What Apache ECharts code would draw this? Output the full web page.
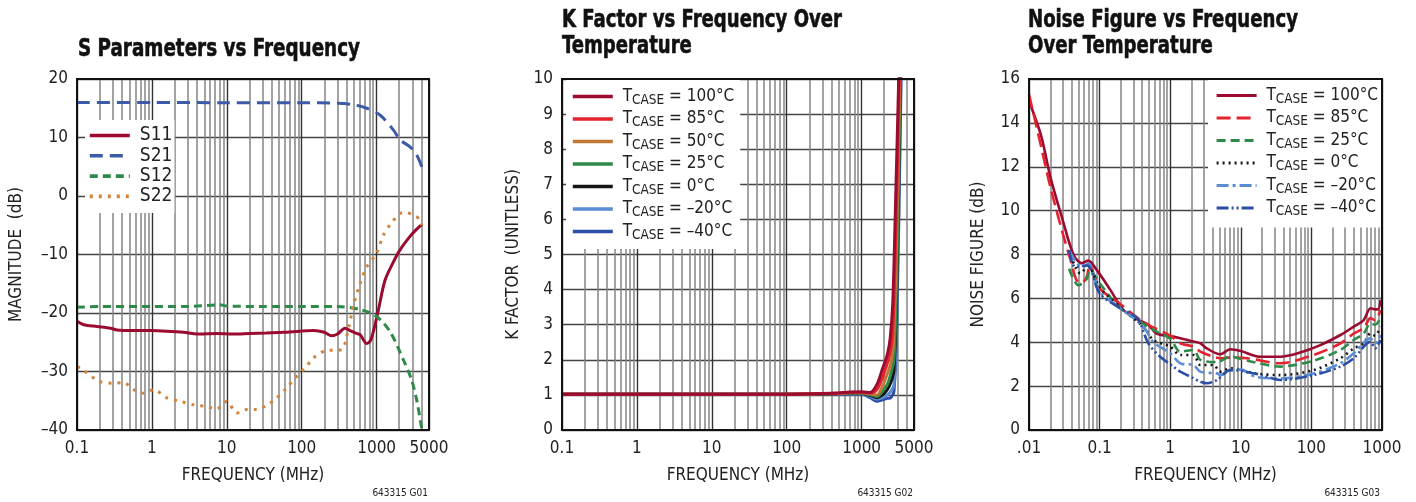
<!DOCTYPE html>
<html>
<head>
<meta charset="utf-8">
<script src="https://cdn.jsdelivr.net/npm/echarts@6/dist/echarts.min.js"></script>
<style>
html,body{margin:0;padding:0;background:#fff;}
#c{width:1416px;height:502px;}
</style>
</head>
<body>
<div id="c"></div>
<script>
// ---------- DATA ----------
// Chart 1: S parameters (freq MHz, dB)
var s11 = [[0.1,-21.4],[0.123,-22.0],[0.185,-22.3],[0.28,-22.6],[0.34,-22.9],[0.57,-23.0],[0.95,-23.0],[1.58,-23.1],[2.66,-23.3],[4,-23.6],[7.3,-23.5],[12,-23.6],[20,-23.5],[34,-23.4],[57,-23.3],[95,-23.1],[143,-23.0],[200,-23.3],[251,-23.9],[300,-23.6],[378,-22.6],[440,-23.0],[514,-23.4],[600,-23.7],[738,-25.2],[820,-24.8],[903,-23.2],[1054,-19.5],[1294,-14.4],[1670,-11.3],[2052,-9.2],[2790,-6.9],[3400,-5.7],[4000,-4.9]];
var s21 = [[0.1,16.0],[1,16.0],[10,15.95],[100,15.95],[300,15.85],[500,15.6],[738,15.0],[1109,13.85],[1670,11.3],[2052,9.6],[2790,8.4],[3427,7.0],[4000,5.0]];
var s12 = [[0.1,-19.0],[0.2,-18.9],[1,-18.9],[3,-18.9],[8,-18.6],[10,-18.8],[30,-18.9],[100,-18.9],[300,-18.9],[604,-19.4],[1000,-20.6],[1510,-23.2],[2275,-28.0],[2940,-31.5],[3427,-34.9],[4000,-39.8]];
var s22 = [[0.1,-29.2],[0.11,-29.4],[0.2,-31.7],[0.31,-32.0],[0.42,-31.9],[0.57,-33.1],[0.78,-33.7],[1.05,-33.1],[1.58,-34.5],[2.4,-35.1],[3.6,-35.7],[5.4,-36.0],[7.3,-36.4],[10,-35.1],[13.6,-37.1],[18.5,-36.5],[25,-36.5],[34,-35.8],[46.5,-34.5],[63,-32.8],[86,-30.8],[116,-29.1],[143,-27.7],[215,-26.4],[339,-26.3],[398,-24.0],[487,-18.9],[604,-14.9],[738,-12.1],[1000,-9.8],[1230,-6.7],[1600,-4.5],[2052,-3.0],[2400,-2.8],[3250,-3.4],[3800,-4.1],[4000,-5.0]];

// Chart 2: K factor (freq MHz, unitless)
var k100 = [[0.1,1.02],[1,1.02],[10,1.02],[100,1.02],[200,1.03],[300,1.04],[500,1.06],[700,1.08],[1000,1.09],[1300,1.07],[1600,1.3],[1900,1.75],[2200,2.15],[2400,2.6],[2600,3.6],[2800,6.0],[3150,10.3]];
var k85 = [[0.1,1.02],[1,1.02],[10,1.02],[100,1.02],[300,1.04],[500,1.05],[700,1.07],[1000,1.07],[1300,1.05],[1600,1.15],[1900,1.5],[2200,1.9],[2400,2.2],[2600,2.8],[2850,5.5],[3200,10.3]];
var k50 = [[0.1,1.02],[1,1.02],[10,1.02],[100,1.02],[300,1.03],[500,1.04],[700,1.06],[1000,1.06],[1300,1.03],[1600,1.0],[1900,1.25],[2200,1.6],[2450,1.9],[2650,2.4],[2900,5.0],[3250,10.3]];
var k25 = [[0.1,1.02],[1,1.02],[10,1.02],[100,1.02],[300,1.03],[500,1.04],[700,1.05],[1000,1.05],[1300,1.0],[1600,0.95],[1900,1.1],[2200,1.3],[2450,1.6],[2700,2.0],[2950,4.5],[3300,10.3]];
var k0 = [[0.1,1.02],[1,1.02],[10,1.02],[100,1.02],[300,1.02],[500,1.03],[700,1.04],[1000,1.04],[1300,0.98],[1600,0.92],[1900,1.0],[2200,1.15],[2450,1.35],[2700,1.7],[2950,4.0],[3320,10.3]];
var km20 = [[0.1,1.02],[1,1.02],[10,1.02],[100,1.02],[300,1.02],[500,1.02],[700,1.03],[1000,1.03],[1300,0.95],[1600,0.88],[1900,0.92],[2200,1.0],[2450,1.1],[2700,1.3],[2950,3.5],[3350,10.3]];
var km40 = [[0.1,1.02],[1,1.02],[10,1.02],[100,1.02],[300,1.02],[500,1.02],[700,1.02],[1000,1.02],[1300,0.92],[1600,0.82],[1900,0.86],[2200,0.9],[2450,0.92],[2700,1.1],[2950,3.0],[3380,10.3]];

// Chart 3: Noise figure (freq MHz, dB)
var nf100 = [[0.01,15.0],[0.0149,13.4],[0.02,11.55],[0.03,9.57],[0.0426,8.0],[0.056,7.6],[0.069,7.72],[0.091,7.3],[0.141,6.4],[0.218,5.47],[0.34,5.04],[0.49,4.79],[0.64,4.4],[1.0,4.28],[1.39,4.18],[2.14,4.03],[2.67,3.95],[3.3,3.72],[5.1,3.45],[7.1,3.68],[10,3.6],[18.9,3.34],[36,3.34],[69,3.53],[134,3.87],[258,4.33],[398,4.71],[550,5.01],[687,5.55],[800,5.5],[880,5.5],[955,5.92]];
var nf85 = [[0.01,15.3],[0.0149,12.9],[0.02,11.1],[0.03,8.97],[0.04,7.6],[0.047,6.84],[0.056,6.7],[0.066,7.0],[0.072,7.5],[0.1,6.46],[0.19,5.78],[0.34,5.13],[0.52,4.75],[1.0,4.3],[1.39,3.95],[2.14,3.8],[2.67,3.57],[4.1,3.34],[5.1,3.27],[7.1,3.3],[12.4,3.27],[36,3.04],[107,3.42],[258,3.95],[398,4.4],[550,4.64],[687,5.1],[800,5.0],[955,5.47]];
var nf25 = [[0.037,7.35],[0.05,6.6],[0.066,6.9],[0.072,7.3],[0.1,6.7],[0.19,5.6],[0.58,4.56],[1.0,4.16],[1.39,3.57],[2.14,3.65],[2.67,3.2],[4.6,3.1],[7.1,3.34],[12.4,3.16],[36,2.89],[107,3.16],[258,3.65],[398,4.1],[550,4.4],[687,4.86],[800,4.8],[955,5.1]];
var nf0 = [[0.037,8.2],[0.053,7.14],[0.069,7.45],[0.1,6.5],[0.25,5.3],[0.42,4.7],[0.58,4.1],[1.0,3.8],[1.39,3.42],[2.14,3.42],[2.67,2.96],[4.1,2.96],[5.1,2.66],[7.1,2.81],[16,2.58],[36,2.5],[107,2.73],[258,3.27],[398,3.72],[550,3.95],[687,4.4],[800,4.3],[955,4.71]];
var nfm20 = [[0.037,8.2],[0.048,7.6],[0.06,7.45],[0.069,7.6],[0.1,6.3],[0.19,5.6],[0.42,4.7],[0.58,4.0],[1.0,3.5],[1.39,3.04],[2.14,2.96],[2.67,2.66],[4.6,2.58],[5.1,2.5],[7.1,2.73],[10,2.75],[16,2.43],[36,2.35],[107,2.58],[258,3.04],[398,3.5],[687,4.18],[800,3.95],[955,4.33]];
var nfm40 = [[0.037,8.2],[0.045,7.44],[0.067,7.5],[0.1,6.23],[0.194,5.55],[0.34,5.1],[0.49,3.95],[0.72,3.34],[1.11,2.89],[1.39,2.66],[2.14,2.36],[2.67,2.2],[3.3,2.13],[4.6,2.28],[7.1,2.73],[10,2.7],[20,2.5],[36,2.28],[107,2.5],[258,2.89],[398,3.27],[687,4.03],[800,3.72],[955,4.1]];

// Tick labels
var xTicks1 = [0.1, 1, 10, 100, 1000, 5000];
var xTickLabels1 = ['0.1', '1', '10', '100', '1000', '5000'];
var xTicks3 = [0.01, 0.1, 1, 10, 100, 1000];
var xTickLabels3 = ['.01', '0.1', '1', '10', '100', '1000'];

var sNames = ['S11', 'S21', 'S12', 'S22'];
var kNames = ['100°C', '85°C', '50°C', '25°C', '0°C', '–20°C', '–40°C'];
var nfNames = ['100°C', '85°C', '25°C', '0°C', '–20°C', '–40°C'];

var titles = [
  ['S Parameters vs Frequency'],
  ['K Factor vs Frequency Over', 'Temperature'],
  ['Noise Figure vs Frequency', 'Over Temperature']
];

// ---------- STYLE ----------
var FONT = "'Liberation Sans Narrow', 'Arial Narrow', 'DejaVu Sans Condensed', sans-serif";
var TFONT = "'DejaVu Sans Condensed', sans-serif";
var TXT = '#222';
var MINOR = '#858585';
var MAJOR = '#333';

function minorLines(minExp, maxVal) {
  var out = [];
  for (var e = minExp; Math.pow(10, e) < maxVal; e++) {
    for (var m = 2; m <= 9; m++) {
      var v = m * Math.pow(10, e);
      if (v < maxVal * 0.999) out.push({ xAxis: v });
    }
  }
  return out;
}
function tickFmt(ticks, labels) {
  return function (v) {
    for (var i = 0; i < ticks.length; i++) {
      if (Math.abs(Math.log10(v) - Math.log10(ticks[i])) < 0.01) return labels[i];
    }
    return '';
  };
}
function yFmt(v) { return String(v).replace('-', '–'); }

var grids = [
  { left: 77, top: 79, width: 352, height: 351 },
  { left: 562, top: 79, width: 352, height: 351 },
  { left: 1029, top: 79, width: 353, height: 351 }
];
grids.forEach(function (g) { g.show = true; g.borderColor = '#111'; g.borderWidth = 2; g.backgroundColor = 'transparent'; g.z = 12; });

function xAxis(gi, min, max, ticks, labels) {
  return {
    type: 'log', logBase: 10, gridIndex: gi, min: min, max: max,
    name: 'FREQUENCY (MHz)', nameLocation: 'middle', nameGap: 37,
    nameTextStyle: { fontFamily: FONT, fontSize: 17, color: TXT },
    axisLine: { show: false }, axisTick: { show: false },
    axisLabel: { fontFamily: FONT, fontSize: 17, color: TXT, margin: 10, showMaxLabel: true, showMinLabel: true, formatter: tickFmt(ticks, labels) },
    splitLine: { show: true, lineStyle: { color: MAJOR, width: 1.4 } },
    minorTick: { show: false }, minorSplitLine: { show: false }
  };
}
function yAxis(gi, min, max, interval, name, gap) {
  return {
    type: 'value', gridIndex: gi, min: min, max: max, interval: interval,
    name: name, nameLocation: 'middle', nameGap: gap, nameRotate: 90,
    nameTextStyle: { fontFamily: FONT, fontSize: 17, color: TXT },
    axisLine: { show: false }, axisTick: { show: false },
    axisLabel: { fontFamily: FONT, fontSize: 17, color: TXT, margin: 9, formatter: yFmt },
    splitLine: { show: true, lineStyle: { color: '#444', width: 1.4 } }
  };
}
function gridSeries(gi, minExp, maxVal) {
  return {
    type: 'line', name: '_grid' + gi, xAxisIndex: gi, yAxisIndex: gi, data: [], z: 1, silent: true,
    markLine: { silent: true, symbol: 'none', label: { show: false }, animation: false,
      lineStyle: { color: MINOR, width: 1.5, type: 'solid' }, data: minorLines(minExp, maxVal) }
  };
}
function line(gi, name, data, color, width, type, z) {
  return { type: 'line', name: name, xAxisIndex: gi, yAxisIndex: gi, data: data, showSymbol: false, symbol: 'none',
    smooth: 0.3, z: z || 5, animation: false,
    lineStyle: { color: color, width: width, type: type, cap: 'butt' }, itemStyle: { color: color } };
}
function tcase(name) { return '{t|T}{s|CASE}{t| = ' + name + '}'; }
var rich = {
  t: { fontFamily: FONT, fontSize: 17, color: TXT, lineHeight: 20 },
  s: { fontFamily: FONT, fontSize: 13.5, color: TXT, lineHeight: 12, padding: [7, 0, 0, 0] }
};

var C = { dred: '#9a0b2f', blue: '#3b5ba8', green: '#2f8a4a', orange: '#d0843e', red: '#e5222d', brown: '#c07735', black: '#151515', lblue: '#5a8dd3', dblue: '#2d4ea6' };

var series = [
  gridSeries(0, -1, 5000), gridSeries(1, -1, 5000), gridSeries(2, -2, 1000),
  line(0, 'S11', s11, C.dred, 3, 'solid', 6),
  line(0, 'S21', s21, C.blue, 3, [13, 7], 6),
  line(0, 'S12', s12, C.green, 3, [8, 5], 6),
  line(0, 'S22', s22, C.orange, 3, [3, 6], 6),
  line(1, 'k' + kNames[6], km40, C.dblue, 3, 'solid', 5),
  line(1, 'k' + kNames[5], km20, C.lblue, 3, 'solid', 5),
  line(1, 'k' + kNames[4], k0, C.black, 3, 'solid', 5),
  line(1, 'k' + kNames[3], k25, C.green, 3, 'solid', 5),
  line(1, 'k' + kNames[2], k50, C.brown, 3, 'solid', 5),
  line(1, 'k' + kNames[1], k85, C.red, 3, 'solid', 5),
  line(1, 'k' + kNames[0], k100, C.dred, 3, 'solid', 5),
  line(2, 'n' + nfNames[0], nf100, C.dred, 2.6, 'solid', 6),
  line(2, 'n' + nfNames[1], nf85, C.red, 2.6, [14, 6], 6),
  line(2, 'n' + nfNames[2], nf25, C.green, 2.6, [9, 5], 6),
  line(2, 'n' + nfNames[3], nf0, C.black, 2.6, [2, 4], 6),
  line(2, 'n' + nfNames[4], nfm20, C.lblue, 2.6, [12, 4, 3, 4], 6),
  line(2, 'n' + nfNames[5], nfm40, C.dblue, 2.6, [12, 3, 2, 3, 2, 3], 6)
];

function legendBase(extra) {
  var o = { orient: 'vertical', backgroundColor: '#fff', itemWidth: 40, itemHeight: 12, itemGap: 1.5,
    itemStyle: { opacity: 0 }, lineStyle: { width: 3.6 }, selectedMode: false, z: 10,
    textStyle: { fontFamily: FONT, fontSize: 17, color: TXT, rich: rich } };
  for (var k in extra) o[k] = extra[k];
  return o;
}

// title text as graphic elements, horizontally condensed to match the narrow face
var measureCtx = document.createElement('canvas').getContext('2d');
function titleGraphic(lines, x, y, targetW) {
  var font = 'bold 25.5px ' + TFONT;
  measureCtx.font = font;
  var w = measureCtx.measureText(lines[0]).width;
  var sx = targetW / w;
  return lines.map(function (t, i) {
    return { type: 'text', x: x, y: y + i * 26, scaleX: sx, z: 20,
      style: { text: t, font: font, fill: '#111', stroke: '#111', lineWidth: 0.6, verticalAlign: 'top', align: 'left' } };
  });
}

var graphic = [].concat(
  titleGraphic(titles[0], 78, 36, 282),
  titleGraphic(titles[1], 562, 7, 280),
  titleGraphic(titles[2], 1028, 7, 270),
  [
    { type: 'text', x: 428, y: 493, style: { text: '643315 G01', font: '10px ' + FONT, fill: TXT, align: 'right', verticalAlign: 'middle' } },
    { type: 'text', x: 913, y: 493, style: { text: '643315 G02', font: '10px ' + FONT, fill: TXT, align: 'right', verticalAlign: 'middle' } },
    { type: 'text', x: 1380, y: 493, style: { text: '643315 G03', font: '10px ' + FONT, fill: TXT, align: 'right', verticalAlign: 'middle' } }
  ]
);

var option = {
  animation: false,
  backgroundColor: '#fff',
  grid: grids,
  xAxis: [xAxis(0, 0.1, 5000, xTicks1, xTickLabels1), xAxis(1, 0.1, 5000, xTicks1, xTickLabels1), xAxis(2, 0.01, 1000, xTicks3, xTickLabels3)],
  yAxis: [yAxis(0, -40, 20, 10, 'MAGNITUDE  (dB)', 52), yAxis(1, 0, 10, 1, 'K FACTOR  (UNITLESS)', 40), yAxis(2, 0, 16, 2, 'NOISE FIGURE (dB)', 42)],
  legend: [
    legendBase({ left: 85, top: 120, padding: [6, 2, 7, 3], itemGap: 1.3, data: sNames,
      formatter: function (n) { return '{u|' + n + '}'; },
      textStyle: { fontFamily: FONT, fontSize: 18, color: TXT, rich: { u: { fontFamily: FONT, fontSize: 19, color: TXT, lineHeight: 20, padding: [0, 0, 0, 5] } } } }),
    legendBase({ left: 566, top: 80, padding: [6, 6, 7, 5],
      data: kNames.map(function (n) { return 'k' + n; }),
      formatter: function (n) { return ' ' + tcase(n.slice(1)); } }),
    legendBase({ left: 1208, top: 80, padding: [5, 3, 9, 7], lineStyle: { width: 3.2 },
      data: nfNames.map(function (n) { return 'n' + n; }),
      formatter: function (n) { return ' ' + tcase(n.slice(1)); } })
  ],
  graphic: graphic,
  series: series
};

var chart = echarts.init(document.getElementById('c'), null, { renderer: 'canvas' });
chart.setOption(option);
</script>
</body>
</html>
